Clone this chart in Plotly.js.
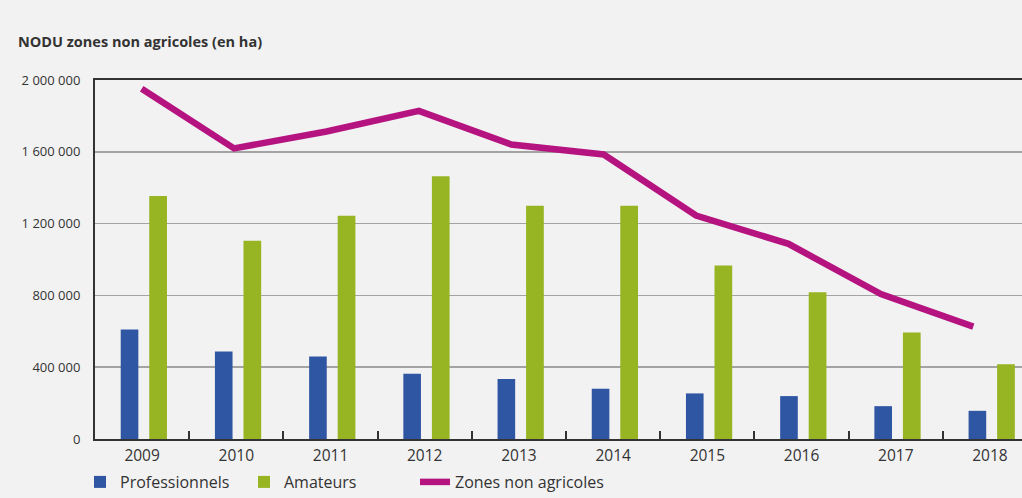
<!DOCTYPE html>
<html>
<head>
<meta charset="utf-8">
<script src="https://cdn.plot.ly/plotly-3.0.1.min.js"></script>
<style>
  html, body { margin: 0; padding: 0; background: #f2f2f2; }
  #chart { width: 1022px; height: 498px; }
</style>
</head>
<body>
<div id="chart"></div>
<script>
// ---- Data ----
const years = ['2009','2010','2011','2012','2013','2014','2015','2016','2017','2018'];
const professionnels = [610000, 487000, 459000, 364000, 334000, 280000, 254000, 239000, 183000, 157000];
const amateurs = [1354000, 1105000, 1244000, 1464000, 1300000, 1300000, 967000, 818000, 594000, 416000];
const zonesNonAgricoles = [1951000, 1619000, 1713000, 1828000, 1641000, 1585000, 1245000, 1087000, 807000, 626000];
const yTickVals = [0, 400000, 800000, 1200000, 1600000, 2000000];
const yTickText = ['0', '400 000', '800 000', '1 200 000', '1 600 000', '2 000 000'];
const seriesNames = ['Professionnels', 'Amateurs', 'Zones non agricoles'];
const chartTitle = 'NODU zones non agricoles (en ha)';

const FONT = '"Open Sans", "Noto Sans", sans-serif';

const traces = [
  {
    type: 'bar', name: seriesNames[0], x: years, y: professionnels,
    offset: -0.227, width: 0.187,
    marker: { color: '#2f56a3', line: { width: 0 } },
    legend: 'legend',
    hoverinfo: 'skip'
  },
  {
    type: 'bar', name: seriesNames[1], x: years, y: amateurs,
    offset: 0.076, width: 0.188,
    marker: { color: '#97b422', line: { width: 0 } },
    legend: 'legend2',
    hoverinfo: 'skip'
  },
  {
    type: 'scatter', mode: 'lines', name: seriesNames[2], x: years, y: zonesNonAgricoles,
    xaxis: 'x2',
    line: { color: '#b5137f', width: 6.5 },
    legend: 'legend3',
    hoverinfo: 'skip'
  }
];

function legendAt(px) {
  return {
    orientation: 'h',
    xref: 'container', yref: 'container',
    x: px / 1022, xanchor: 'left',
    y: 16 / 498, yanchor: 'middle',
    font: { family: FONT, size: 16, color: '#333333' },
    bgcolor: 'rgba(0,0,0,0)'
  };
}

const layout = {
  width: 1022, height: 498,
  paper_bgcolor: '#f2f2f2', plot_bgcolor: '#f2f2f2',
  margin: { l: 95, r: 0, t: 80, b: 59 },
  font: { family: FONT, color: '#333333', size: 13 },
  barmode: 'overlay',
  showlegend: true,
  title: {
    text: chartTitle,
    font: { family: FONT, size: 14.5, color: '#333333', weight: 'bold' },
    xref: 'container', yref: 'container',
    x: 18 / 1022, xanchor: 'left',
    y: 1 - 42 / 498, yanchor: 'middle'
  },
  xaxis: {
    type: 'category',
    range: [-0.5, 9.34],
    showgrid: false,
    showline: true, linecolor: '#333333', linewidth: 2, mirror: true,
    ticks: 'inside', tickson: 'boundaries', ticklen: 8, tickwidth: 2, tickcolor: '#333333',
    tickfont: { family: FONT, size: 15.5, color: '#333333' },
    ticklabelstandoff: 1,
    fixedrange: true
  },
  xaxis2: {
    type: 'category',
    overlaying: 'x',
    range: [-0.5054, 9.527],
    visible: false,
    fixedrange: true
  },
  yaxis: {
    range: [0, 2000000],
    tickvals: yTickVals, ticktext: yTickText,
    showgrid: true, gridcolor: '#a3a3a3', gridwidth: 1.5,
    zeroline: false,
    showline: true, linecolor: '#333333', linewidth: 2,
    ticks: '',
    tickfont: { family: FONT, size: 13, color: '#333333' },
    ticklabelstandoff: 10,
    fixedrange: true
  },
  legend: legendAt(80),
  legend2: legendAt(244),
  legend3: legendAt(415)
};

Plotly.newPlot('chart', traces, layout, { displayModeBar: false, staticPlot: true });
</script>
</body>
</html>
